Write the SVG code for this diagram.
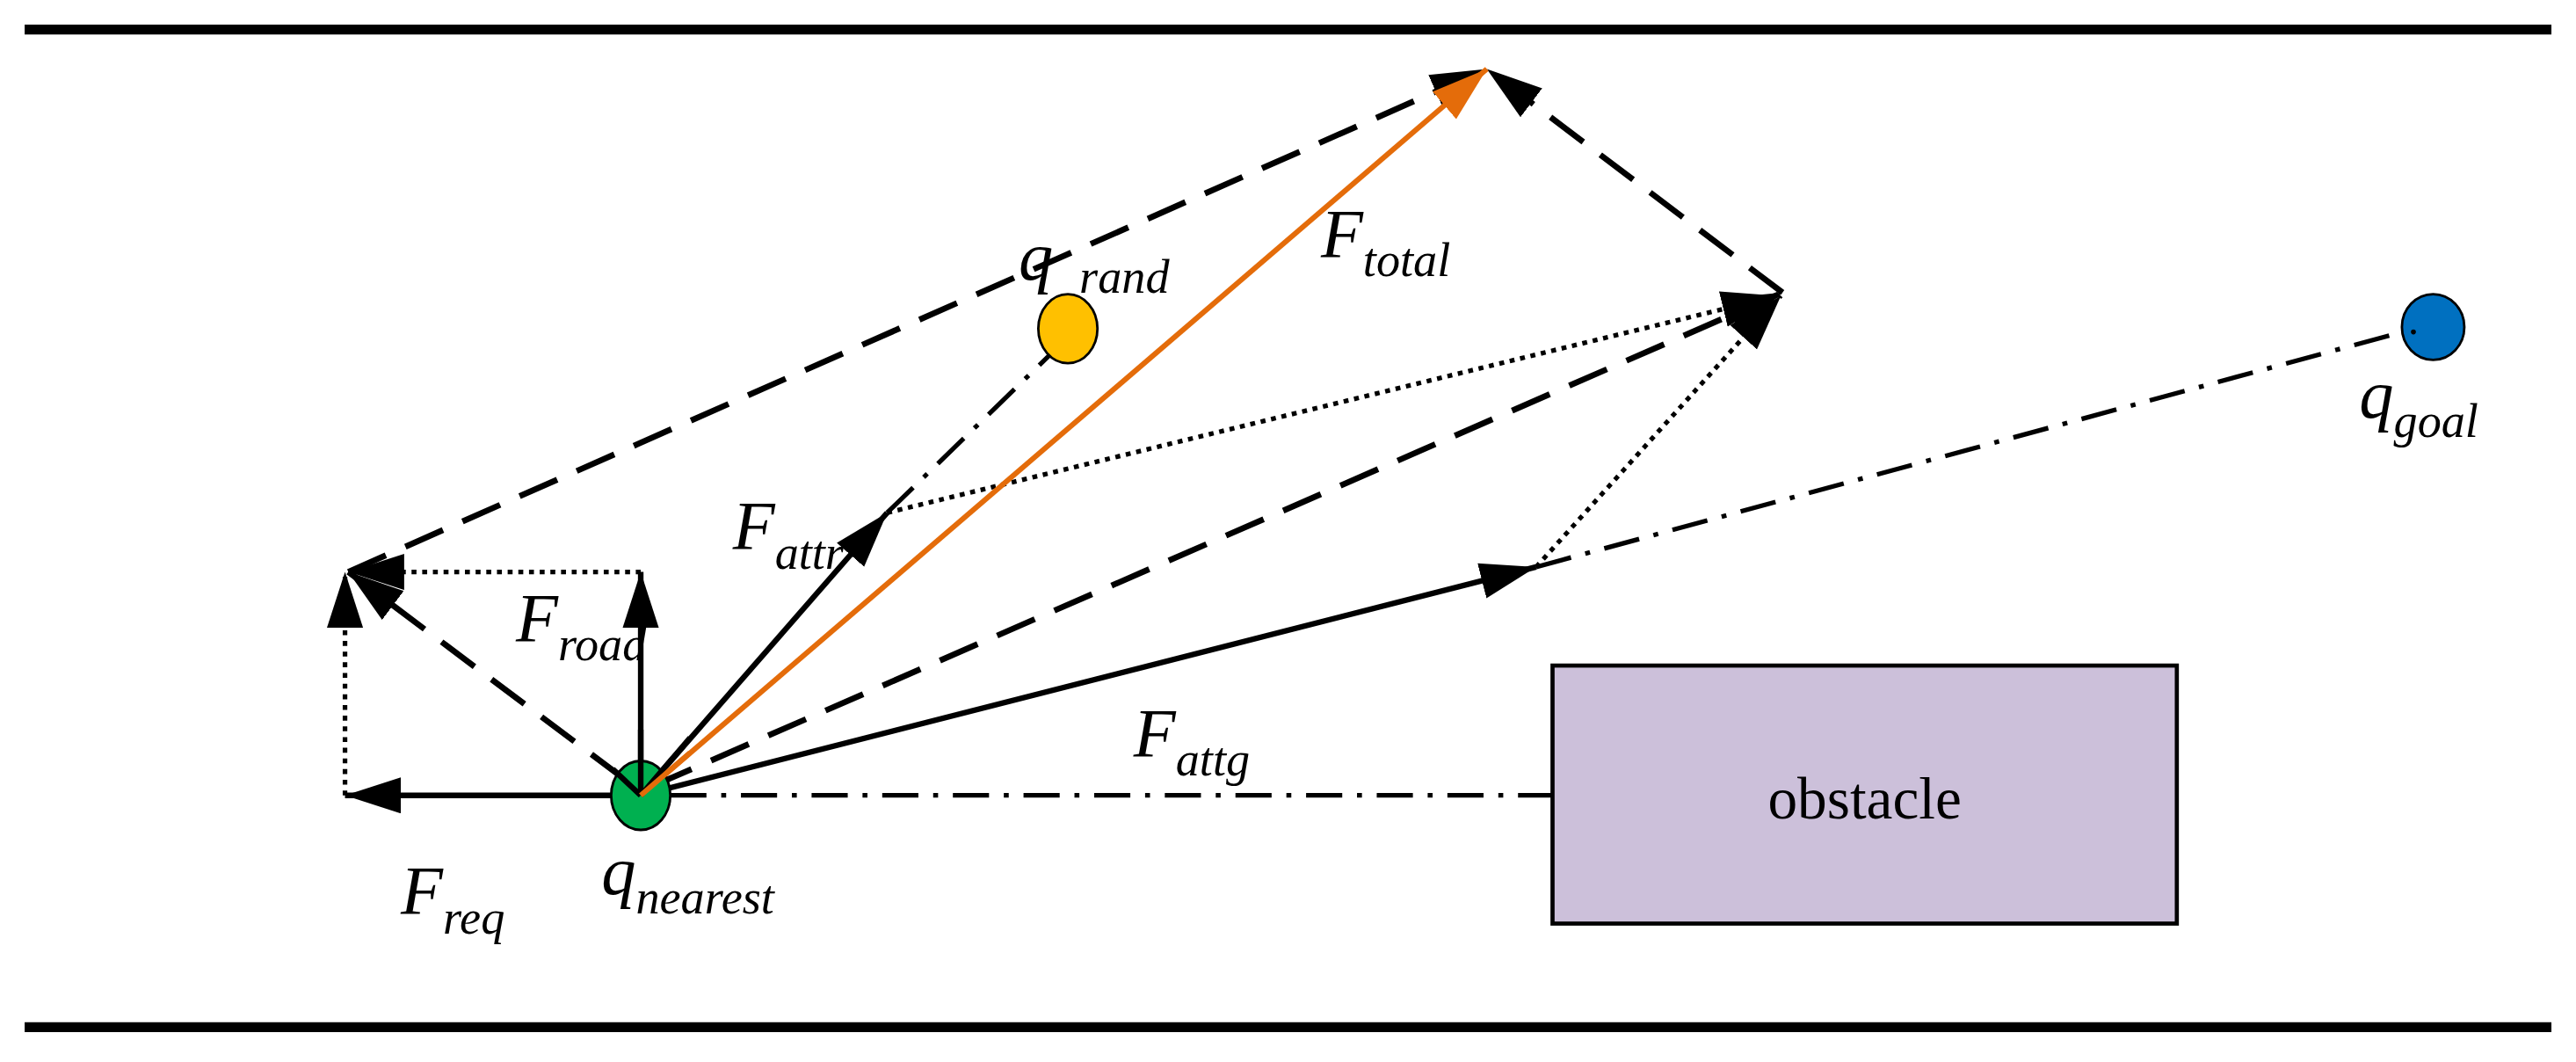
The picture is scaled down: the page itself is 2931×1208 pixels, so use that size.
<svg xmlns="http://www.w3.org/2000/svg" width="2931" height="1208" viewBox="0 0 2931 1208">
<style>
.t{font-family:"Liberation Serif",serif;font-style:italic;fill:#000}
.F{font-size:42px}.s{font-size:29px}
.sol{stroke:#000;stroke-width:3.4;fill:none}
.dash{stroke:#000;stroke-width:3.6;fill:none;stroke-dasharray:25 13}
.dot{stroke:#000;stroke-width:2.8;fill:none;stroke-dasharray:3 3.5}
.dd{stroke:#000;stroke-width:2.8;fill:none;stroke-dasharray:22 9 3 9}
</style>
<defs>
<marker id="a" markerUnits="userSpaceOnUse" markerWidth="36" markerHeight="24" refX="34" refY="11" orient="auto"><path d="M0,0 L34,11 L0,22 Z" fill="#000"/></marker>
<marker id="o" markerUnits="userSpaceOnUse" markerWidth="36" markerHeight="24" refX="34" refY="11" orient="auto"><path d="M0,0 L34,11 L0,22 Z" fill="#E46C0A"/></marker>
</defs>
<rect width="2931" height="1208" fill="#fff"/>
<g transform="scale(1.8693)">
<g id="road">
<line x1="15" y1="18" x2="1553" y2="18" stroke="#000" stroke-width="6"/>
<line x1="15" y1="625" x2="1553" y2="625" stroke="#000" stroke-width="6"/>
</g>
<g id="obstacle">
<rect x="945" y="405" width="380" height="157" fill="#CCC0DA" stroke="#000" stroke-width="2.5"/>
<text x="1135" y="498" font-family="Liberation Serif,serif" font-size="36" text-anchor="middle">obstacle</text>
</g>
<g id="connectors">
<line class="dd" x1="408" y1="484" x2="945" y2="484"/>
<line class="dd" x1="540" y1="312" x2="640" y2="215"/>
<line class="dd" x1="935" y1="345" x2="1466" y2="201"/>
<line class="dot" x1="210" y1="484" x2="210" y2="348" marker-end="url(#a)"/>
<line class="dot" x1="390" y1="348" x2="212" y2="348" marker-end="url(#a)"/>
<line class="dash" x1="380" y1="474" x2="212" y2="348" marker-end="url(#a)"/>
<line class="dash" x1="212" y1="348" x2="905" y2="42" marker-end="url(#a)"/>
<line class="dash" x1="1085" y1="178" x2="905" y2="42" marker-end="url(#a)"/>
<line class="dash" x1="398" y1="478" x2="1085" y2="178" marker-end="url(#a)"/>
<line class="dot" x1="540" y1="312" x2="1082" y2="180" marker-end="url(#a)"/>
<line class="dot" x1="935" y1="345" x2="1084" y2="180" marker-end="url(#a)"/>
<line class="sol" x1="390" y1="484" x2="210" y2="484" marker-end="url(#a)"/>
<line class="sol" x1="390" y1="484" x2="390" y2="348" marker-end="url(#a)"/>
<line class="sol" x1="390" y1="484" x2="540" y2="312" marker-end="url(#a)"/>
<line class="sol" x1="390" y1="484" x2="935" y2="345" marker-end="url(#a)"/>
<line x1="390" y1="484" x2="905" y2="42" stroke="#E46C0A" stroke-width="3.2" marker-end="url(#o)"/>
</g>
<g id="q_nearest"><ellipse cx="390" cy="484" rx="18" ry="21" fill="#00B050" stroke="#000" stroke-width="1.5"/>
<line class="sol" x1="390" y1="484" x2="390" y2="444"/><line class="sol" x1="390" y1="484" x2="373" y2="468"/><line class="sol" x1="390" y1="484" x2="420" y2="449"/><line x1="390" y1="484" x2="420" y2="458" stroke="#E46C0A" stroke-width="3.2"/></g>
<g id="q_rand"><ellipse cx="650" cy="200" rx="18" ry="21" fill="#FFC000" stroke="#000" stroke-width="1.5"/></g>
<g id="q_goal"><ellipse cx="1481" cy="199" rx="19" ry="20" fill="#0070C0" stroke="#000" stroke-width="1.5"/><circle cx="1469" cy="202" r="1.5" fill="#000"/></g>
<g id="labels">
<text class="t" x="244" y="556"><tspan class="F">F</tspan><tspan class="s" dy="12">req</tspan></text>
<text class="t" x="366" y="544"><tspan class="F">q</tspan><tspan class="s" dy="12">nearest</tspan></text>
<text class="t" x="314" y="390"><tspan class="F">F</tspan><tspan class="s" dy="12">road</tspan></text>
<text class="t" x="446" y="334"><tspan class="F">F</tspan><tspan class="s" dy="12">attr</tspan></text>
<text class="t" x="690" y="460"><tspan class="F">F</tspan><tspan class="s" dy="12">attg</tspan></text>
<text class="t" x="804" y="156"><tspan class="F">F</tspan><tspan class="s" dy="12">total</tspan></text>
<text class="t" x="620" y="170"><tspan class="F">q</tspan><tspan class="s" dx="16" dy="8">rand</tspan></text>
<text class="t" x="1436" y="254"><tspan class="F">q</tspan><tspan class="s" dy="12">goal</tspan></text>
</g>
</g>
</svg>
